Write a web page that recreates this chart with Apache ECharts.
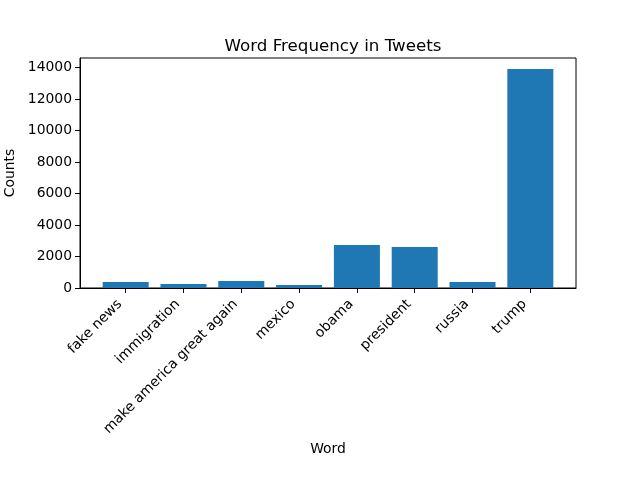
<!DOCTYPE html>
<html>
<head>
<meta charset="utf-8">
<script src="https://cdn.jsdelivr.net/npm/echarts@6/dist/echarts.min.js"></script>
<style>
  html, body { margin: 0; padding: 0; background: #fff; }
  #chart { width: 640px; height: 480px; }
</style>
</head>
<body>
<div id="chart"></div>
<script>
// word counts
var words = ['fake news', 'immigration', 'make america great again', 'mexico', 'obama', 'president', 'russia', 'trump'];
var counts = [380, 255, 445, 190, 2730, 2600, 380, 13900];
var yTicks = [0, 2000, 4000, 6000, 8000, 10000, 12000, 14000];

var chart = echarts.init(document.getElementById('chart'));

var barData = counts.map(function (v, i) { return [i, v]; });
var xTicks = words.map(function (w, i) { return i; });
// rotated labels hang a little left of their tick, like matplotlib's ha='right'
var xLabelPos = words.map(function (w, i) { return i - 0.1; });
var font = 'DejaVu Sans';

var option = {
  animation: false,
  title: {
    text: 'Word Frequency in Tweets',
    left: 328,
    textAlign: 'center',
    top: 33,
    textStyle: { fontFamily: font, fontSize: 16.7, fontWeight: 'normal', color: '#000' }
  },
  grid: {
    left: 80, right: 64, top: 58, bottom: 192,
    outerBoundsMode: 'none',
    containLabel: false,
    show: true, borderColor: '#000', borderWidth: 1, backgroundColor: 'transparent'
  },
  xAxis: {
    type: 'value',
    min: -0.79,
    max: 7.79,
    name: 'Word',
    nameLocation: 'middle',
    nameGap: 154,
    nameTextStyle: { fontFamily: font, fontSize: 13.9, color: '#000' },
    splitLine: { show: false },
    axisLine: { show: true, onZero: false, lineStyle: { color: '#000' } },
    axisTick: {
      show: true, length: 5, lineStyle: { color: '#000' },
      customValues: xTicks
    },
    axisLabel: {
      rotate: 45,
      margin: 14,
      fontFamily: font, fontSize: 13.9, color: '#000',
      customValues: xLabelPos,
      formatter: function (v) { return words[Math.round(v)]; }
    }
  },
  yAxis: {
    type: 'value',
    min: 0,
    max: 14595,
    name: 'Counts',
    nameLocation: 'middle',
    nameGap: 56,
    nameTextStyle: { fontFamily: font, fontSize: 13.9, color: '#000' },
    splitLine: { show: false },
    axisLine: { show: true, onZero: false, lineStyle: { color: '#000' } },
    axisTick: { show: true, length: 5, lineStyle: { color: '#000' }, customValues: yTicks },
    axisLabel: {
      margin: 8, fontFamily: font, fontSize: 13.9, color: '#000', customValues: yTicks,
      formatter: function (v) { return String(v); }
    }
  },
  series: [
    {
      type: 'bar',
      barWidth: 46,
      itemStyle: { color: '#1f77b4' },
      data: barData
    }
  ]
};
chart.setOption(option);
</script>
</body>
</html>
